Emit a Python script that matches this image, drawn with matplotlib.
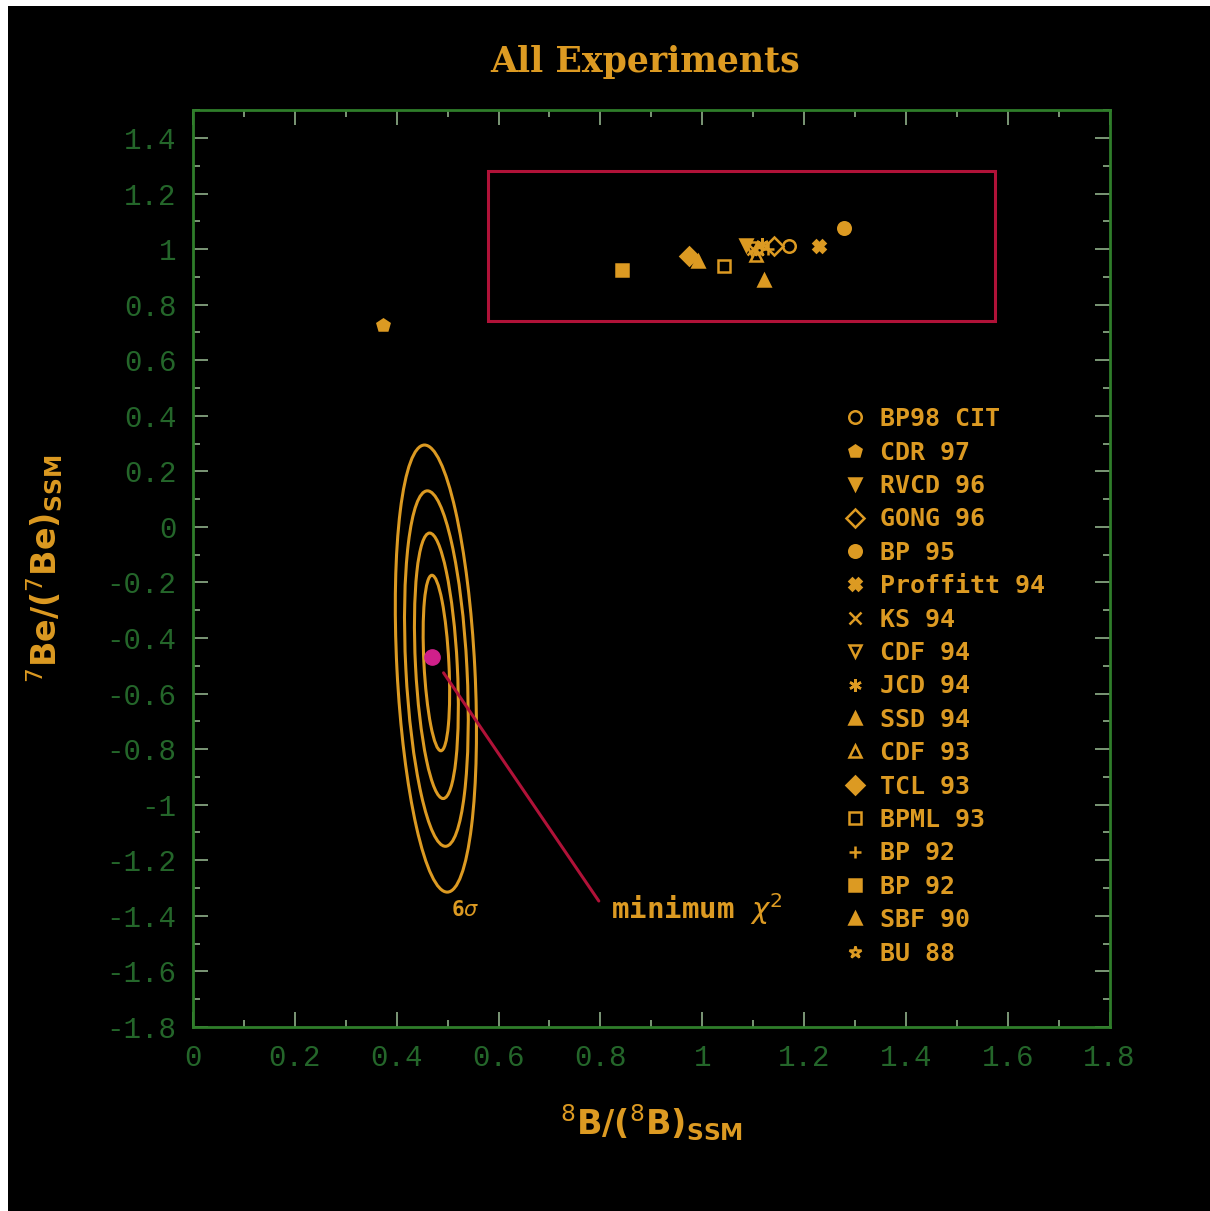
import matplotlib
matplotlib.use("Agg")
import matplotlib.pyplot as plt
from matplotlib.patches import Ellipse, Rectangle
from matplotlib.ticker import MultipleLocator, FixedLocator

# Farben
orange = '#dc9a22'
gruen = '#2f7d2a'
gruen_dunkel = '#24662a'
rot = '#b01238'

# Modelle (Legende) und Positionen  (8B/8B_SSM, 7Be/7Be_SSM)
modelle = ['BP98 CIT', 'CDR 97', 'RVCD 96', 'GONG 96', 'BP 95', 'Proffitt 94', 'KS 94',
           'CDF 94', 'JCD 94', 'SSD 94', 'CDF 93', 'TCL 93', 'BPML 93', 'BP 92', 'BP 92',
           'SBF 90', 'BU 88']
b8 = [1.171, 0.373, 1.086, 1.141, 1.278, 1.229, 1.100, 1.095, 1.118, 1.122, 1.106,
      0.975, 1.043, 1.130, 0.843, 0.992, 1.112]
be7 = [1.011, 0.726, 1.015, 1.011, 1.076, 1.011, 1.000, 1.005, 1.020, 0.888, 0.980,
       0.975, 0.939, 1.000, 0.924, 0.958, 0.995]
marker = ['o', 'p', 'v', 'D', 'o', 'X', 'x', 'v', (6, 2, 0), '^', '^', 'D', 's', '+',
          's', '^', '*']
gefuellt = [False, True, True, False, True, True, True, False, True, True, False, True,
            False, True, True, True, False]

# Kontur-Ellipsen (Zentrum, Halbachsen, Neigung)
ell_x = [0.478, 0.478, 0.478, 0.477]
ell_y = [-0.49, -0.50, -0.51, -0.51]
ell_b = [0.0245, 0.041, 0.060, 0.0765]
ell_h = [0.316, 0.478, 0.640, 0.805]
ell_winkel = 1.6

# Minimum chi^2
min_x, min_y = 0.469, -0.467

# Kasten um die Modelle
box_x = [0.58, 1.575]
box_y = [0.74, 1.28]

fig = plt.figure(figsize=(12.10, 12.11), dpi=100, facecolor='black')
# weisser Rand oben und links
fig.add_artist(Rectangle((0, 0), 8/1210, 1, transform=fig.transFigure,
                         facecolor='white', edgecolor='none', zorder=-5))
fig.add_artist(Rectangle((0, 1 - 6/1211), 1, 6/1211, transform=fig.transFigure,
                         facecolor='white', edgecolor='none', zorder=-5))
ax = fig.add_axes([0.1595, 0.152, 0.7575, 0.757])
ax.set_facecolor('black')

for i in range(len(ell_x)):
    ax.add_patch(Ellipse((ell_x[i], ell_y[i]), 2*ell_b[i], 2*ell_h[i], angle=ell_winkel,
                         fill=False, edgecolor=orange, lw=2.2))
ax.text(0.535, -1.38, r'6$\sigma$', color=orange, fontsize=15, fontweight='bold',
        ha='center', va='center', family='DejaVu Sans Mono')

ax.add_patch(Rectangle((box_x[0], box_y[0]), box_x[1]-box_x[0], box_y[1]-box_y[0],
                       fill=False, edgecolor=rot, lw=2.2))

for i in range(len(modelle)):
    ax.plot(b8[i], be7[i], linestyle='none', marker=marker[i], markersize=9,
            markerfacecolor=orange if gefuellt[i] else 'none',
            markeredgecolor=orange, markeredgewidth=1.8, label=modelle[i])

ax.annotate('', xy=(min_x+0.02, min_y-0.05), xytext=(0.80, -1.355),
            arrowprops=dict(arrowstyle='-', color=rot, lw=2.2))
ax.plot(min_x, min_y, 'o', color='#d0208a', markersize=11, zorder=5)
ax.text(0.82, -1.375, r'minimum $\chi^2$', color=orange, fontsize=21, fontweight='bold',
        family='DejaVu Sans Mono', va='center', ha='left')

leg = ax.legend(loc='upper left', bbox_to_anchor=(0.700, 0.687), frameon=False,
                handlelength=0.8, handletextpad=0.6, labelspacing=0.376, borderaxespad=0,
                prop={'family': 'DejaVu Sans Mono', 'weight': 'bold', 'size': 18})
for t in leg.get_texts():
    t.set_color(orange)

ax.set_xlim(0, 1.8)
ax.set_ylim(-1.8, 1.5)
ax.xaxis.set_major_locator(MultipleLocator(0.2))
ax.xaxis.set_minor_locator(MultipleLocator(0.1))
ax.yaxis.set_major_locator(FixedLocator([-1.8 + 0.2*k for k in range(17)]))
ax.yaxis.set_minor_locator(MultipleLocator(0.1))
ax.xaxis.set_major_formatter(plt.FuncFormatter(lambda v, p: f'{v:.1f}'.rstrip('0').rstrip('.') if abs(v) > 1e-9 else '0'))
ax.yaxis.set_major_formatter(plt.FuncFormatter(lambda v, p: f'{v:.1f}'.rstrip('0').rstrip('.') if abs(v) > 1e-9 else '0'))
ax.tick_params(which='both', direction='in', top=True, right=True, color='#8fb08a',
               labelcolor=gruen_dunkel, labelsize=21, width=1.2)
ax.tick_params(which='major', length=11, pad=12)
ax.tick_params(which='minor', length=5)
for lab in ax.get_xticklabels() + ax.get_yticklabels():
    lab.set_family('Liberation Mono')
for s in ax.spines.values():
    s.set_color(gruen)
    s.set_linewidth(2)

ax.set_xlabel(r'$^{8}$B/($^{8}$B)$_{\mathbf{SSM}}$', color=orange, fontsize=24,
              fontweight='bold', labelpad=22)
ax.set_ylabel(r'$^{7}$Be/($^{7}$Be)$_{\mathbf{SSM}}$', color=orange, fontsize=24,
              fontweight='bold', labelpad=30)
fig.text(0.533, 0.949, 'All Experiments', color=orange, fontsize=25, fontweight='bold',
         family='DejaVu Serif', ha='center', va='center')

fig.savefig('out.png', dpi=100, facecolor=fig.get_facecolor())
